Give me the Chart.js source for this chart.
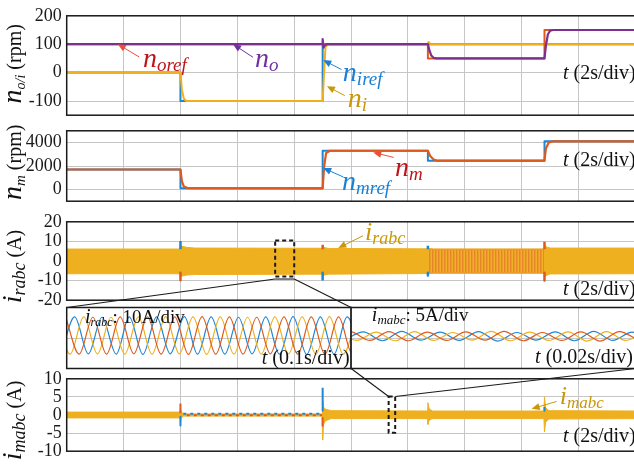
<!DOCTYPE html>
<html>
<head>
<meta charset="utf-8">
<title>Speed and current responses</title>
<script src="https://cdn.jsdelivr.net/npm/chart.js@4/dist/chart.umd.min.js"></script>
<style>
  html, body { margin: 0; padding: 0; background: #fff; }
  #fig { position: relative; width: 634px; height: 464px; overflow: hidden; background: #fff; }
  #fig canvas { position: absolute; left: 0; }
</style>
</head>
<body>
<div id="fig">
  <canvas id="cNoi"></canvas>
  <canvas id="cNm"></canvas>
  <canvas id="cIr"></canvas>
  <canvas id="cZr"></canvas>
  <canvas id="cZm"></canvas>
  <canvas id="cIm"></canvas>
  <canvas id="cLinks"></canvas>
</div>
<script>
// ---------------- axis ticks ----------------
const TICK_T   = [0, 2, 4, 6, 8, 10, 12, 14, 16, 18, 20];
const TICK_ZR  = [0, 0.1, 0.2, 0.3, 0.4, 0.5];
const TICK_ZM  = [0, 0.02, 0.04, 0.06, 0.08, 0.1];
const TICK_NOI = [-100, 0, 100, 200];
const TICK_NM  = [0, 2000, 4000];
const TICK_IR  = [-20, -10, 0, 10, 20];
const TICK_IM  = [-10, -5, 0, 5, 10];
const TICK_ZRY = [-10, 0, 10];
const TICK_ZMY = [-5, 0, 5];

// ---------------- output / input shaft speed (rpm) ----------------
const T_OREF = [0, 12.7, 12.7, 16.8, 16.8, 20];
const N_OREF = [100, 100, 50, 50, 150, 150];
const T_O = [0, 8.98, 9.0, 9.03, 9.08, 9.15, 12.7, 12.75, 12.82, 12.9, 13.0, 16.8, 16.85, 16.92, 17.0, 17.1, 20];
const N_O = [100, 100, 118, 88, 97, 100, 100, 80, 60, 52, 50, 50, 95, 135, 148, 150, 150];
const T_IREF = [0, 4, 4, 9, 9, 20];
const N_IREF = [0, 0, -100, -100, 100, 100];
const T_I = [0, 4.0, 4.05, 4.12, 4.2, 9.0, 9.04, 9.1, 9.2, 12.7, 12.72, 12.8, 16.8, 16.83, 16.9, 20];
const N_I = [0, 0, -60, -92, -100, -100, -20, 90, 100, 100, 108, 100, 100, 106, 100, 100];

// ---------------- motor speed (rpm) ----------------
const T_MREF = [0, 4, 4, 9, 9, 12.7, 12.7, 16.8, 16.8, 20];
const N_MREF = [1700, 1700, 100, 100, 3300, 3300, 2450, 2450, 4100, 4100];
const T_M = [0, 4.0, 4.05, 4.12, 4.25, 9.0, 9.05, 9.12, 9.25, 12.7, 12.78, 12.9, 13.05, 16.8, 16.85, 16.95, 17.1, 20];
const N_M = [1700, 1700, 700, 250, 120, 100, 1900, 3100, 3300, 3300, 2850, 2550, 2450, 2450, 3500, 4000, 4100, 4100];

// ---------------- rotor current envelope (A) ----------------
const T_IR  = [0, 3.98, 4.0, 4.04, 4.2, 4.5, 8.98, 9.0, 9.05, 9.2, 12.68, 12.7, 12.75, 12.9, 16.78, 16.8, 16.86, 17.0, 20];
const IR_UP = [6.1, 6.1, 8.0, 7.6, 7.0, 6.6, 6.5, 7.5, 6.9, 6.4, 6.2, 7.0, 6.4, 6.1, 6.1, 8.5, 7.2, 6.6, 6.6];
const IR_LO = [-6.5, -6.5, -8.0, -7.8, -7.2, -6.9, -6.7, -8.0, -7.2, -6.7, -6.4, -7.0, -6.5, -6.2, -6.2, -8.5, -7.4, -6.6, -6.5];
const T_IR_OSC  = [12.72, 16.78];
const IR_OSC_UP = [6.0, 6.0];
const IR_OSC_LO = [-6.1, -6.1];
// [time, from, to]
const IR_SPIKE_BLUE   = [[4.0, 6.0, 10.2], [9.0, -6.0, -9.5], [12.7, 6.0, 7.8], [12.7, -6.0, -7.4]];
const IR_SPIKE_ORANGE = [[4.0, -6.0, -9.8], [9.0, 6.0, 8.3], [16.8, 6.0, 9.8], [16.8, -6.0, -10.0]];

// ---------------- rotor phase currents, 0.5 s window (extrema) ----------------
const ZR_TA = [-0.010, 0.014, 0.038, 0.062, 0.087, 0.110, 0.134, 0.158, 0.182, 0.207, 0.230, 0.254, 0.278, 0.302, 0.326, 0.350, 0.374, 0.398, 0.422, 0.446, 0.470, 0.493, 0.517];
const ZR_A  = [-5.3, 6.9, -5.2, 6.8, -5.3, 6.9, -5.4, 6.9, -5.2, 7.0, -5.3, 6.9, -5.3, 6.8, -5.2, 6.9, -5.3, 7.0, -5.4, 6.9, -5.3, 6.9, -5.3];
const ZR_TB = [-0.018, 0.006, 0.030, 0.054, 0.078, 0.102, 0.126, 0.150, 0.174, 0.198, 0.222, 0.246, 0.270, 0.294, 0.318, 0.342, 0.366, 0.390, 0.414, 0.438, 0.462, 0.486, 0.510];
const ZR_B  = [6.9, -5.3, 6.9, -5.2, 6.8, -5.3, 6.9, -5.3, 7.0, -5.2, 6.9, -5.4, 6.9, -5.3, 6.8, -5.3, 6.9, -5.2, 6.9, -5.3, 7.0, -5.3, 6.9];
const ZR_TC = [-0.002, 0.022, 0.046, 0.070, 0.094, 0.118, 0.142, 0.166, 0.190, 0.214, 0.238, 0.262, 0.286, 0.310, 0.334, 0.358, 0.382, 0.406, 0.430, 0.454, 0.478, 0.502, 0.526];
const ZR_C  = [6.9, -5.3, 6.8, -5.3, 6.9, -5.2, 6.9, -5.3, 6.9, -5.4, 7.0, -5.3, 6.9, -5.3, 6.8, -5.2, 6.9, -5.3, 6.9, -5.3, 6.9, -5.2, 6.9];

// ---------------- motor phase currents, 0.1 s window (extrema) ----------------
const ZM_TA = [-0.0025, 0.0043, 0.0110, 0.0178, 0.0245, 0.0313, 0.0380, 0.0448, 0.0515, 0.0583, 0.0650, 0.0718, 0.0785, 0.0853, 0.0920, 0.0988, 0.1055];
const ZM_A  = [-0.4, 1.0, -0.45, 1.1, -0.35, 0.95, -0.4, 1.05, -0.5, 0.9, -0.35, 1.0, -0.45, 1.1, -0.4, 0.95, -0.4];
const ZM_TB = [-0.0047, 0.0020, 0.0088, 0.0155, 0.0223, 0.0290, 0.0358, 0.0425, 0.0493, 0.0560, 0.0628, 0.0695, 0.0763, 0.0830, 0.0898, 0.0965, 0.1033];
const ZM_B  = [1.0, -0.4, 0.95, -0.45, 1.05, -0.4, 0.9, -0.35, 1.1, -0.45, 0.95, -0.4, 1.0, -0.5, 1.05, -0.4, 0.95];
const ZM_TC = [-0.0070, -0.0002, 0.0066, 0.0133, 0.0201, 0.0268, 0.0336, 0.0403, 0.0471, 0.0538, 0.0606, 0.0673, 0.0741, 0.0808, 0.0876, 0.0943, 0.1011];
const ZM_C  = [-0.4, 1.0, -0.4, 1.05, -0.45, 0.95, -0.4, 1.0, -0.35, 1.1, -0.45, 0.9, -0.4, 1.0, -0.5, 1.05, -0.4];

// ---------------- motor current envelope (A) ----------------
const T_IM  = [0, 3.98, 4.0, 4.03, 4.1, 8.98, 9.0, 9.03, 9.1, 9.3, 12.68, 12.7, 12.74, 12.85, 16.78, 16.8, 16.84, 16.95, 20];
const IM_UP = [0.8, 0.8, 2.0, 0.9, 0.3, 0.3, 4.0, 2.2, 1.6, 1.2, 1.1, 3.4, 1.8, 1.1, 1.1, 5.0, 2.0, 1.2, 1.1];
const IM_LO = [-0.8, -0.8, -2.0, -0.9, -0.3, -0.3, -6.9, -2.6, -1.6, -1.0, -1.0, -2.6, -1.5, -1.0, -1.0, -4.7, -2.0, -1.1, -1.0];
const T_IM_RIPPLE = [4.1, 8.98];
const IM_RIPPLE_B = [0.35, 0.35];
const IM_RIPPLE_R = [-0.05, -0.05];
const IM_SPIKE_BLUE   = [[4.0, -0.5, -2.9], [9.0, 1.0, 7.5], [16.8, 1.0, 2.2]];
const IM_SPIKE_ORANGE = [[4.0, 0.5, 3.2], [9.0, -0.8, -3.0]];

// zoom windows marked on the long records
const ZOOM_IR = { t0: 7.33, t1: 8.0, hi: 10.5, lo: -7.9, joint: -9.2 };
const ZOOM_IM = { t0: 11.32, t1: 11.55, hi: 5.1, lo: -4.9 };

// ---------------- styling ----------------
const SERIF = '"Liberation Serif", "Times New Roman", Times, serif';
const BLUE = '#1f86d2', ORANGE = '#dd5a1e', YELLOW = '#efb020', PURPLE = '#7e2f8e';
const GRID = '#c6c6c6', INK = '#1a1a1a';
const C_RED = '#c0141a', C_PUR = '#7030a0', C_BLU = '#1a80d4', C_GLD = '#c8980a';

const FIG_W = 640, FIG_H = 464, PAD = 12, TITLE_X = 21;
const X_LEFT = 66.7, X_SPLIT = 351.1, X_RIGHT = 635.5;
const ROW = { noi: [12.5, 119], nm: [127.5, 205], ir: [218, 304], zoom: [307.5, 368.5], im: [375, 455] };

function font(key) { return (key[0] === 'i' ? 'italic ' : '') + key.slice(1) + 'px ' + SERIF; }
function richWidth(ctx, parts) {
  let w = 0;
  for (const p of parts) { ctx.font = font(p[1]); w += ctx.measureText(p[0]).width; }
  return w;
}
function drawRich(ctx, x, y, parts, color) {
  ctx.fillStyle = color; ctx.textAlign = 'left'; ctx.textBaseline = 'alphabetic';
  for (const p of parts) {
    ctx.font = font(p[1]);
    ctx.fillText(p[0], x, y + (p[2] || 0));
    x += ctx.measureText(p[0]).width;
  }
}
function arrow(ctx, x0, y0, x1, y1, color) {
  const a = Math.atan2(y1 - y0, x1 - x0), L = 8, W = 3.5, c = Math.cos(a), s = Math.sin(a);
  ctx.strokeStyle = color; ctx.lineWidth = 1;
  ctx.beginPath(); ctx.moveTo(x0, y0); ctx.lineTo(x1 - 0.8 * L * c, y1 - 0.8 * L * s); ctx.stroke();
  ctx.fillStyle = color;
  ctx.beginPath(); ctx.moveTo(x1, y1);
  ctx.lineTo(x1 - L * c + W * s, y1 - L * s - W * c);
  ctx.lineTo(x1 - L * c - W * s, y1 - L * s + W * c);
  ctx.closePath(); ctx.fill();
}

function P(xs, ys) { return xs.map((x, i) => ({ x, y: ys[i] })); }
function spikes(list) {
  const out = [];
  list.forEach(([t, a, b]) => { out.push({ x: t, y: a }, { x: t, y: b }, { x: t, y: null }); });
  return out;
}
function line(data, color, width, extra) {
  return Object.assign({ data, borderColor: color, borderWidth: width, pointRadius: 0, fill: false, tension: 0, spanGaps: false }, extra || {});
}
function stripePattern() {
  const c = document.createElement('canvas'); c.width = 3; c.height = 4;
  const g = c.getContext('2d');
  g.fillStyle = '#f0b026'; g.fillRect(0, 0, 3, 4);
  g.fillStyle = '#e8842c'; g.fillRect(0, 0, 1, 4);
  g.fillStyle = '#ec9c2a'; g.fillRect(1, 0, 1, 4);
  return document.createElement('canvas').getContext('2d').createPattern(c, 'repeat');
}

function decor(opt) {
  return {
    id: 'decor',
    afterDraw(chart) {
      const { ctx, chartArea: a, scales: { x, y } } = chart;
      ctx.save();
      ctx.strokeStyle = INK; ctx.lineWidth = 1.5;
      ctx.strokeRect(a.left, a.top, a.right - a.left, a.bottom - a.top);
      if (opt.title) {
        ctx.save();
        ctx.translate(TITLE_X, y.getPixelForValue(opt.title.at));
        ctx.rotate(-Math.PI / 2);
        drawRich(ctx, -richWidth(ctx, opt.title.parts) / 2, 0, opt.title.parts, '#111');
        ctx.restore();
      }
      for (const n of opt.notes || []) {
        if (n.tip) arrow(ctx, x.getPixelForValue(n.tail[0]), y.getPixelForValue(n.tail[1]),
                         x.getPixelForValue(n.tip[0]), y.getPixelForValue(n.tip[1]), n.arrow || n.color);
        drawRich(ctx, x.getPixelForValue(n.at[0]), y.getPixelForValue(n.at[1]), n.parts, n.color);
      }
      ctx.restore();
    }
  };
}

function makeChart(id, opt) {
  const cv = document.getElementById(id);
  const [aTop, aBot] = opt.row;
  const top = Math.floor(aTop - PAD), bot = Math.ceil(aBot + PAD);
  cv.width = FIG_W; cv.height = bot - top;
  cv.style.width = FIG_W + 'px'; cv.style.height = (bot - top) + 'px'; cv.style.top = top + 'px';
  const chart = new Chart(cv, {
    type: 'line',
    data: { datasets: opt.datasets },
    options: {
      responsive: false, animation: false, devicePixelRatio: 1, events: [],
      layout: { padding: { top: aTop - top, bottom: bot - aBot, left: 0, right: FIG_W - opt.right } },
      plugins: { legend: { display: false }, tooltip: { enabled: false } },
      elements: { point: { radius: 0 }, line: { borderCapStyle: 'butt', borderJoinStyle: 'round' } },
      scales: {
        x: {
          type: 'linear', min: opt.x[0], max: opt.x[1],
          afterBuildTicks: s => { s.ticks = opt.xTicks.map(value => ({ value })); },
          afterFit: s => { s.height = 0; },
          ticks: { display: false, autoSkip: false },
          grid: { color: GRID, lineWidth: 1, drawTicks: false },
          border: { display: false }
        },
        y: {
          type: 'linear', min: opt.y[0], max: opt.y[1],
          afterBuildTicks: s => { s.ticks = opt.yTicks.map(value => ({ value })); },
          afterFit: s => { s.width = opt.left; },
          ticks: { display: !!opt.yLabels, autoSkip: false, padding: 5, color: INK, font: { family: SERIF, size: 18 }, callback: v => String(v) },
          grid: { color: GRID, lineWidth: 1, drawTicks: false },
          border: { display: false }
        }
      }
    },
    plugins: [decor(opt)]
  });
  chart.top = top;
  return chart;
}

const tDiv = (at) => ({ parts: [['t', 'i20'], [' (2s/div)', 'r20']], color: '#111', at });

// ---- output / input speeds ----
const chNoi = makeChart('cNoi', {
  row: ROW.noi, left: X_LEFT, right: X_RIGHT, x: [0, 20], y: [-150, 200], xTicks: TICK_T, yTicks: TICK_NOI, yLabels: true,
  datasets: [
    line(P(T_O, N_O), PURPLE, 2.2),
    line(P(T_OREF, N_OREF), ORANGE, 2),
    line(P(T_I, N_I), YELLOW, 2),
    line(P(T_IREF, N_IREF), BLUE, 2)
  ],
  title: { at: 31, parts: [['n', 'i28'], ['o/i', 'i14', 4], [' (rpm)', 'r20']] },
  notes: [
    { parts: [['n', 'i28'], ['oref', 'i19', 4]], color: C_RED, arrow: '#e8503c', at: [2.68, 21], tail: [2.55, 55], tip: [1.8, 100] },
    { parts: [['n', 'i28'], ['o', 'i19', 4]], color: C_PUR, at: [6.62, 21], tail: [6.55, 54], tip: [5.85, 100] },
    { parts: [['n', 'i28'], ['iref', 'i19', 4]], color: C_BLU, at: [9.71, -28], tail: [9.66, 11], tip: [9.02, 44] },
    { parts: [['n', 'i28'], ['i', 'i19', 4]], color: C_GLD, at: [9.88, -120], tail: [9.78, -81], tip: [9.15, -48] },
    tDiv([17.45, -21])
  ]
});

// ---- motor speed ----
const chNm = makeChart('cNm', {
  row: ROW.nm, left: X_LEFT, right: X_RIGHT, x: [0, 20], y: [-1000, 5000], xTicks: TICK_T, yTicks: TICK_NM, yLabels: true,
  datasets: [
    line(P(T_M, N_M), ORANGE, 2.2),
    line(P(T_MREF, N_MREF), BLUE, 2)
  ],
  title: { at: 2316, parts: [['n', 'i28'], ['m', 'i15', 4], [' (rpm)', 'r20']] },
  notes: [
    { parts: [['n', 'i28'], ['m', 'i19', 4]], color: C_RED, arrow: '#e8503c', at: [11.54, 1160], tail: [11.5, 2730], tip: [10.78, 3150] },
    { parts: [['n', 'i28'], ['mref', 'i19', 4]], color: C_BLU, at: [9.68, -70], tail: [9.73, 1060], tip: [9.02, 1830] },
    tDiv([17.45, 2000])
  ]
});

// ---- rotor current ----
const chIr = makeChart('cIr', {
  row: ROW.ir, left: X_LEFT, right: X_RIGHT, x: [0, 20], y: [-20, 20], xTicks: TICK_T, yTicks: TICK_IR, yLabels: true,
  datasets: [
    line(spikes(IR_SPIKE_BLUE), BLUE, 2.5),
    line(spikes(IR_SPIKE_ORANGE), ORANGE, 2.5),
    line(P(T_IR_OSC, IR_OSC_UP), '#ec9a2a', 1),
    line(P(T_IR_OSC, IR_OSC_LO), '#ec9a2a', 1, { fill: '-1', backgroundColor: stripePattern() }),
    line(P(T_IR, IR_UP), YELLOW, 1),
    line(P(T_IR, IR_LO), YELLOW, 1, { fill: '-1', backgroundColor: YELLOW })
  ],
  title: { at: -2.8, parts: [['i', 'i28'], ['rabc', 'i18', 4], [' (A)', 'r20']] },
  notes: [
    { parts: [['i', 'i26'], ['rabc', 'i18', 4]], color: C_GLD, at: [10.49, 10.7], tail: [10.42, 12.9], tip: [9.55, 6.6] },
    tDiv([17.45, -17.2])
  ]
});

// ---- zoomed rotor currents ----
const chZr = makeChart('cZr', {
  row: ROW.zoom, left: X_LEFT, right: X_SPLIT, x: [0, 0.5], y: [-10, 10], xTicks: TICK_ZR, yTicks: TICK_ZRY, yLabels: false,
  datasets: [
    line(P(ZR_TC, ZR_C), ORANGE, 1.2, { cubicInterpolationMode: 'monotone' }),
    line(P(ZR_TB, ZR_B), YELLOW, 1.2, { cubicInterpolationMode: 'monotone' }),
    line(P(ZR_TA, ZR_A), BLUE, 1.2, { cubicInterpolationMode: 'monotone' })
  ],
  notes: [
    { parts: [['i', 'i20'], ['rabc', 'i12', 3], [': 10A/div', 'r19']], color: '#111', at: [0.032, 4.9] },
    { parts: [['t', 'i20'], [' (0.1s/div)', 'r20']], color: '#111', at: [0.343, -8.5] }
  ]
});

// ---- zoomed motor currents ----
const chZm = makeChart('cZm', {
  row: ROW.zoom, left: X_SPLIT, right: X_RIGHT, x: [0, 0.1], y: [-5, 5], xTicks: TICK_ZM, yTicks: TICK_ZMY, yLabels: false,
  datasets: [
    line(P(ZM_TC, ZM_C), ORANGE, 1.2, { cubicInterpolationMode: 'monotone' }),
    line(P(ZM_TB, ZM_B), YELLOW, 1.2, { cubicInterpolationMode: 'monotone' }),
    line(P(ZM_TA, ZM_A), BLUE, 1.2, { cubicInterpolationMode: 'monotone' })
  ],
  notes: [
    { parts: [['i', 'i20'], ['mabc', 'i13', 3], [': 5A/div', 'r19']], color: '#111', at: [0.0073, 2.8] },
    { parts: [['t', 'i20'], [' (0.02s/div)', 'r20']], color: '#111', at: [0.0647, -4.1] }
  ]
});

// ---- motor current ----
const chIm = makeChart('cIm', {
  row: ROW.im, left: X_LEFT, right: X_RIGHT, x: [0, 20], y: [-10, 10], xTicks: TICK_T, yTicks: TICK_IM, yLabels: true,
  datasets: [
    line(spikes(IM_SPIKE_BLUE), BLUE, 2),
    line(spikes(IM_SPIKE_ORANGE), ORANGE, 2),
    line(P(T_IM_RIPPLE, IM_RIPPLE_B), BLUE, 2, { borderDash: [3, 4] }),
    line(P(T_IM_RIPPLE, IM_RIPPLE_R), ORANGE, 2, { borderDash: [3, 4], borderDashOffset: 3.5 }),
    line(P(T_IM, IM_UP), YELLOW, 1),
    line(P(T_IM, IM_LO), YELLOW, 1, { fill: '-1', backgroundColor: YELLOW })
  ],
  title: { at: -1.5, parts: [['i', 'i28'], ['mabc', 'i18', 4], [' (A)', 'r20']] },
  notes: [
    { parts: [['i', 'i26'], ['mabc', 'i17', 4]], color: C_GLD, at: [17.34, 3.0], tail: [17.23, 3.75], tip: [16.35, 1.7] },
    tDiv([17.45, -7.5])
  ]
});

// ---- zoom boxes and leader lines ----
(function drawLinks() {
  const cv = document.getElementById('cLinks');
  cv.width = FIG_W; cv.height = FIG_H;
  cv.style.width = FIG_W + 'px'; cv.style.height = FIG_H + 'px'; cv.style.top = '0px';
  const g = cv.getContext('2d');
  const px = (ch, t) => ch.scales.x.getPixelForValue(t);
  const py = (ch, v) => ch.top + ch.scales.y.getPixelForValue(v);
  const seg = (x0, y0, x1, y1) => { g.beginPath(); g.moveTo(x0, y0); g.lineTo(x1, y1); g.stroke(); };
  g.strokeStyle = INK;

  g.lineWidth = 2; g.setLineDash([4, 3]);
  [[chIr, ZOOM_IR], [chIm, ZOOM_IM]].forEach(([ch, z]) => {
    const x0 = px(ch, z.t0), x1 = px(ch, z.t1), y0 = py(ch, z.hi), y1 = py(ch, z.lo);
    g.strokeRect(x0, y0, x1 - x0, y1 - y0);
  });
  g.setLineDash([]); g.lineWidth = 1.1;

  const zl = chZr.chartArea, zr = chZm.chartArea;
  const zTop = chZr.top + zl.top, zBot = chZr.top + zl.bottom;
  const jx0 = px(chIr, ZOOM_IR.t0), jx1 = px(chIr, ZOOM_IR.t1), jy = py(chIr, ZOOM_IR.joint);
  seg(jx0, jy, zl.left, zTop);
  seg(jx0, jy, jx1, jy);
  seg(jx1, jy, zl.right, zTop);
  const my = py(chIm, ZOOM_IM.hi);
  seg(zl.right, zBot, px(chIm, ZOOM_IM.t0), my);
  seg(px(chIm, ZOOM_IM.t1), my, zr.right, zBot);
})();
</script>
</body>
</html>
